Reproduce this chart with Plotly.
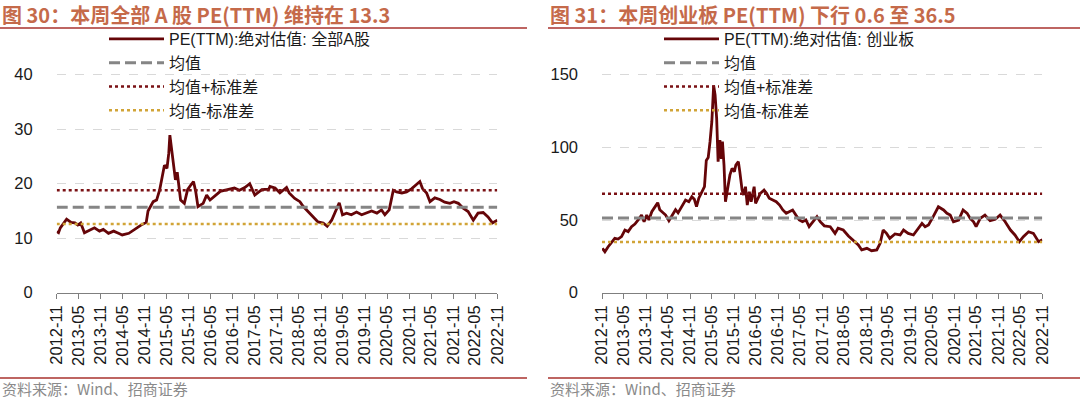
import plotly.graph_objects as go

# ---------------- data ----------------
a_dates = ["2012-11-01","2012-11-16","2012-12-01","2013-01-22","2013-02-28","2013-04-01","2013-04-25",
           "2013-05-19","2013-06-19","2013-07-28","2013-09-10","2013-10-22","2013-11-22","2014-01-04",
           "2014-02-16","2014-03-28","2014-04-28","2014-06-22","2014-08-07","2014-10-01","2014-11-13",
           "2014-11-28","2015-01-10","2015-02-07","2015-03-04","2015-03-22","2015-04-13","2015-05-04",
           "2015-05-19","2015-05-28","2015-06-16","2015-07-01","2015-07-13","2015-07-28","2015-08-13",
           "2015-08-25","2015-09-25","2015-10-22","2015-11-19","2015-12-10","2015-12-28","2016-01-16",
           "2016-02-28","2016-03-28","2016-04-25","2016-06-07","2016-07-19","2016-09-16","2016-11-13",
           "2016-12-25","2017-02-07","2017-03-20","2017-05-01","2017-06-28","2017-08-25","2017-09-04",
           "2017-10-16","2017-11-25","2018-01-19","2018-02-10","2018-03-28","2018-05-10","2018-06-07",
           "2018-07-16","2018-08-28","2018-10-07","2018-11-19","2018-12-22","2019-01-28","2019-03-04",
           "2019-04-01","2019-04-28","2019-06-01","2019-07-10","2019-08-22","2019-10-04","2019-11-13",
           "2019-12-25","2020-02-07","2020-03-16","2020-04-13","2020-05-19","2020-06-22","2020-07-19",
           "2020-09-01","2020-10-10","2020-11-22","2021-01-01","2021-01-28","2021-02-19","2021-03-25",
           "2021-04-22","2021-06-01","2021-07-13","2021-08-22","2021-10-04","2021-11-07","2021-12-13",
           "2022-01-22","2022-03-04","2022-04-16","2022-05-25","2022-07-07","2022-08-16","2022-09-22",
           "2022-11-01"]
a_pe = [11.2, 11.0, 11.9, 13.5, 12.9, 12.8, 12.4,
        12.8, 11.0, 11.4, 11.9, 11.3, 11.6, 10.9,
        11.3, 10.9, 10.6, 10.9, 11.6, 12.4, 12.9,
        15.0, 16.7, 17.0, 18.8, 20.7, 23.4, 22.8,
        25.6, 28.9, 25.6, 22.5, 20.7, 22.1, 19.3,
        17.0, 16.4, 18.9, 19.8, 20.4, 18.6, 15.8,
        16.4, 17.9, 17.0, 17.9, 18.6, 18.9, 19.2,
        18.8, 19.3, 20.0, 17.9, 18.9, 19.0, 19.5,
        19.2, 18.3, 19.3, 18.3, 17.3, 16.7, 15.8,
        14.9, 13.9, 13.0, 12.8, 12.2, 13.3, 15.2,
        16.5, 14.3, 14.6, 14.3, 14.8, 14.3, 14.6,
        15.0, 14.6, 15.2, 14.3, 15.2, 18.8, 18.5,
        18.3, 18.5, 19.1, 19.8, 20.4, 19.1, 18.3,
        16.7, 17.4, 17.1, 16.6, 16.4, 16.7, 16.4,
        15.5, 14.9, 13.3, 14.6, 14.7, 13.9, 12.8,
        13.3]
a_mean = 15.7
a_std = 3.1

c_dates = ["2012-11-04","2012-11-25","2012-12-22","2013-01-20","2013-02-15","2013-03-14","2013-04-12",
           "2013-05-10","2013-06-06","2013-07-04","2013-08-01","2013-08-28","2013-09-25","2013-10-16",
           "2013-11-07","2013-11-25","2013-12-19","2014-01-16","2014-02-06","2014-02-23","2014-03-22",
           "2014-04-13","2014-05-10","2014-06-07","2014-07-04","2014-07-25","2014-08-28","2014-09-25",
           "2014-10-22","2014-11-16","2014-12-07","2014-12-25","2015-01-13","2015-02-10","2015-03-01",
           "2015-03-16","2015-04-01","2015-04-16","2015-05-01","2015-05-16","2015-05-28","2015-06-10",
           "2015-06-22","2015-07-07","2015-07-19","2015-07-28","2015-08-10","2015-08-22","2015-09-07",
           "2015-09-28","2015-10-16","2015-11-04","2015-11-16","2015-12-07","2015-12-19","2016-01-07",
           "2016-01-19","2016-02-04","2016-02-19","2016-03-07","2016-03-22","2016-04-16","2016-04-28",
           "2016-05-16","2016-06-07","2016-07-07","2016-07-28","2016-08-19","2016-09-19","2016-10-16",
           "2016-11-13","2016-12-10","2017-01-07","2017-02-04","2017-03-01","2017-03-28","2017-04-25",
           "2017-05-22","2017-06-19","2017-07-16","2017-08-19","2017-09-19","2017-10-16","2017-11-19",
           "2018-01-07","2018-02-16","2018-03-13","2018-04-25","2018-06-07","2018-07-16","2018-08-28",
           "2018-09-25","2018-11-07","2018-12-16","2019-01-28","2019-02-25","2019-03-22","2019-04-19",
           "2019-05-16","2019-06-28","2019-08-10","2019-09-07","2019-10-16","2019-11-28","2020-01-10",
           "2020-02-07","2020-03-04","2020-04-01","2020-05-10","2020-06-22","2020-08-04","2020-09-01",
           "2020-09-28","2020-10-25","2020-12-07","2021-01-13","2021-02-16","2021-03-13","2021-04-10",
           "2021-05-01","2021-06-04","2021-07-13","2021-08-25","2021-10-07","2021-11-16","2021-12-28",
           "2022-02-10","2022-03-19","2022-04-25","2022-05-28","2022-07-10","2022-08-19","2022-10-01",
           "2022-11-01"]
c_pe = [30.5, 28.2, 31.6, 35.1, 37.4, 36.9, 38.6,
        43.1, 42.0, 45.4, 47.2, 50.0, 53.4, 48.8,
        53.4, 50.0, 55.7, 59.2, 61.9, 57.1, 54.9,
        53.4, 49.5, 53.4, 57.1, 54.9, 60.3, 63.7,
        62.6, 66.0, 64.2, 59.2, 65.0, 69.5, 72.9,
        91.0, 93.0, 103.9, 117.6, 142.5, 136.0, 119.9,
        90.1, 105.0, 92.0, 103.9, 87.8, 62.6, 71.7,
        81.0, 85.5, 83.3, 87.8, 90.1, 83.3, 70.6,
        67.2, 72.9, 60.3, 69.5, 62.6, 72.9, 61.5,
        65.0, 68.4, 70.6, 68.4, 65.0, 63.9, 62.6,
        60.3, 56.9, 54.6, 55.7, 56.9, 53.4, 50.0,
        48.8, 50.0, 45.4, 48.8, 52.3, 48.8, 46.0,
        45.4, 40.8, 44.3, 43.1, 39.0, 36.2, 32.8,
        29.4, 30.5, 28.9, 29.4, 34.0, 43.1, 40.8,
        37.4, 40.4, 39.7, 43.1, 40.8, 39.7, 44.3,
        47.7, 45.4, 46.6, 52.3, 59.1, 56.9, 54.6,
        53.4, 48.8, 50.0, 56.9, 54.6, 51.1, 48.8,
        45.4, 51.1, 53.4, 49.5, 50.5, 53.4, 48.8,
        43.1, 39.7, 35.1, 38.5, 41.9, 40.8, 35.1,
        36.5]
c_mean = 51.4
c_std = 16.6

tick_dates = ["2012-11-01","2013-05-01","2013-11-01","2014-05-01","2014-11-01","2015-05-01","2015-11-01",
              "2016-05-01","2016-11-01","2017-05-01","2017-11-01","2018-05-01","2018-11-01","2019-05-01",
              "2019-11-01","2020-05-01","2020-11-01","2021-05-01","2021-11-01","2022-05-01","2022-11-01"]
tick_labels = ["2012-11","2013-05","2013-11","2014-05","2014-11","2015-05","2015-11",
               "2016-05","2016-11","2017-05","2017-11","2018-05","2018-11","2019-05",
               "2019-11","2020-05","2020-11","2021-05","2021-11","2022-05","2022-11"]
x_start, x_end = "2012-11-01", "2022-11-01"

titles = ["图 30：本周全部 A 股 PE(TTM) 维持在 13.3", "图 31：本周创业板 PE(TTM) 下行 0.6 至 36.5"]
series_names = ["PE(TTM):绝对估值: 全部A股", "PE(TTM):绝对估值: 创业板"]
source_text = "资料来源：Wind、招商证券"

# ---------------- style ----------------
W, H = 1080, 399
MAIN = "#650508"
MEAN = "#858585"
UP = "#7A1114"
DOWN = "#D1A437"
TITLE_C = "#C56A4A"
RULE_C = "#A8322E"
FONT = "Arial, 'Liberation Sans', 'Noto Sans CJK SC', sans-serif"
CJK = "'Noto Sans CJK SC', Arial, sans-serif"

fig = go.Figure()

panels = [
    dict(dates=a_dates, pe=a_pe, mean=a_mean, std=a_std, name=series_names[0],
         xa="x", ya="y", legend="legend"),
    dict(dates=c_dates, pe=c_pe, mean=c_mean, std=c_std, name=series_names[1],
         xa="x2", ya="y2", legend="legend2"),
]

for p in panels:
    fig.add_trace(go.Scatter(x=p["dates"], y=p["pe"], mode="lines", name=p["name"],
                             line=dict(color=MAIN, width=2.8), xaxis=p["xa"], yaxis=p["ya"],
                             legend=p["legend"]))
    fig.add_trace(go.Scatter(x=[x_start, x_end], y=[p["mean"], p["mean"]], mode="lines", name="均值",
                             line=dict(color=MEAN, width=3, dash="11px,5px"),
                             xaxis=p["xa"], yaxis=p["ya"], legend=p["legend"]))
    fig.add_trace(go.Scatter(x=[x_start, x_end], y=[p["mean"] + p["std"]] * 2, mode="lines",
                             name="均值+标准差", line=dict(color=UP, width=2.5, dash="dot"),
                             xaxis=p["xa"], yaxis=p["ya"], legend=p["legend"]))
    fig.add_trace(go.Scatter(x=[x_start, x_end], y=[p["mean"] - p["std"]] * 2, mode="lines",
                             name="均值-标准差", line=dict(color=DOWN, width=2.5, dash="dot"),
                             xaxis=p["xa"], yaxis=p["ya"], legend=p["legend"]))

y_bottom = 1 - 292.7 / H
y_top = 1 - 47.5 / H
plot_h = (y_top - y_bottom) * H

xcommon = dict(type="date", range=[x_start, x_end], tickmode="array", tickvals=tick_dates,
               ticktext=tick_labels, tickangle=-90, tickfont=dict(family=FONT, size=16.5, color="#1a1a1a"),
               showgrid=False, showline=True, linecolor="#7f7f7f", linewidth=1.2,
               ticks="outside", ticklen=5, tickcolor="#7f7f7f", tickwidth=1.2, zeroline=False,
               automargin=False)
ycommon = dict(showgrid=True, gridcolor="#d9d9d9", griddash="dash", gridwidth=1, zeroline=False,
               showline=False, ticks="", tickfont=dict(family=FONT, size=16.5, color="#1a1a1a"),
               ticklabelstandoff=23, automargin=False)

legend_common = dict(xanchor="left", yanchor="top", bgcolor="rgba(0,0,0,0)",
                     font=dict(family=FONT, size=16, color="#1a1a1a"), itemwidth=55,
                     tracegroupgap=0, itemclick=False, itemdoubleclick=False)

fig.update_layout(
    width=W, height=H, autosize=False,
    margin=dict(l=0, r=0, t=0, b=0, pad=0),
    paper_bgcolor="white", plot_bgcolor="white",
    showlegend=True,
    xaxis=dict(xcommon, domain=[56.7 / W, 497.3 / W], anchor="y"),
    yaxis=dict(ycommon, domain=[y_bottom, y_top], range=[0, plot_h / 5.45], dtick=10, anchor="x"),
    xaxis2=dict(xcommon, domain=[602 / W, 1042.3 / W], anchor="y2"),
    yaxis2=dict(ycommon, domain=[y_bottom, y_top], range=[0, plot_h / 1.454], dtick=50, anchor="x2"),
    legend=dict(legend_common, x=104 / W, y=1 - 22 / H),
    legend2=dict(legend_common, x=659 / W, y=1 - 22 / H),
)

# titles, rules and source
for x0, x1, title in [(0, 527, titles[0]), (548, 1080, titles[1])]:
    fig.add_annotation(x=x0 / W, y=1 - 14 / H, xref="paper", yref="paper", xanchor="left",
                       yanchor="middle", text="<b>" + title + "</b>", showarrow=False,
                       font=dict(family=CJK, size=20, color=TITLE_C))
    fig.add_shape(type="line", xref="paper", yref="paper", x0=x0 / W, x1=x1 / W,
                  y0=1 - 28 / H, y1=1 - 28 / H, line=dict(color=RULE_C, width=1.5))
    fig.add_shape(type="line", xref="paper", yref="paper", x0=x0 / W, x1=x1 / W,
                  y0=1 - 378 / H, y1=1 - 378 / H, line=dict(color=RULE_C, width=1.5))
    fig.add_annotation(x=x0 / W, y=1 - 388 / H, xref="paper", yref="paper", xanchor="left",
                       yanchor="middle", text=source_text, showarrow=False,
                       font=dict(family=CJK, size=15, color="#8a8a8a"))

fig.write_html("out.html",
               config={"displayModeBar": False},
               post_script="document.body.style.margin='0';document.body.style.padding='0';"
                           "document.body.style.overflow='hidden';")
